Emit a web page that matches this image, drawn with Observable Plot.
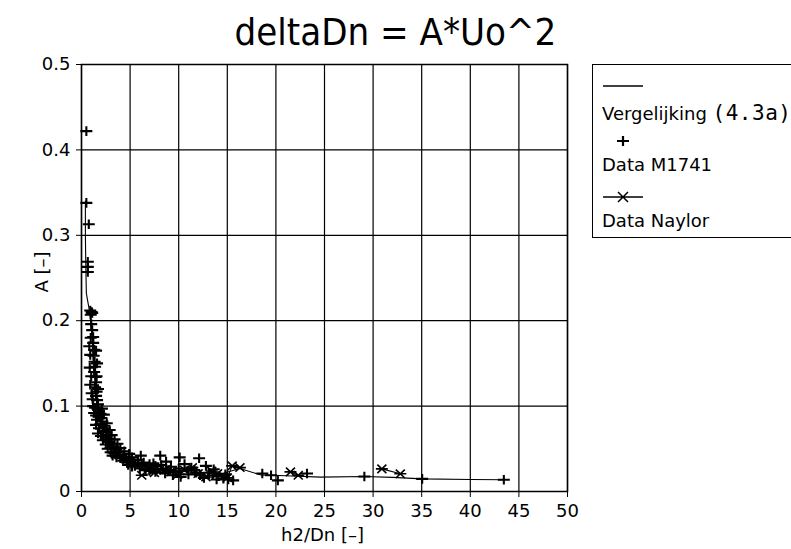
<!DOCTYPE html>
<html>
<head>
<meta charset="utf-8">
<script src="https://cdn.jsdelivr.net/npm/d3@7"></script>
<script src="https://cdn.jsdelivr.net/npm/@observablehq/plot@0.6"></script>
<style>
html, body { margin: 0; padding: 0; background: #fff; overflow: hidden; }
#wrap { position: relative; width: 791px; height: 549px; overflow: hidden; font-family: "DejaVu Sans", sans-serif; color: #000; }
#title { height: 60px; position: relative; }
#title span { position: absolute; left: 0; width: 791px; top: 13px; text-align: center; font-family: "DejaVu Sans Condensed", "DejaVu Sans", sans-serif; font-size: 38px; line-height: 38px; white-space: nowrap; }
#legend { position: absolute; left: 592px; top: 64px; width: 230px; height: 174px; border: 1.5px solid #000; box-sizing: border-box; }
#legend .t { position: absolute; left: 9px; font-size: 18px; line-height: 18px; white-space: nowrap; }
#legend .mono { font-family: "DejaVu Sans Mono", monospace; font-size: 21px; letter-spacing: 0.5px; }
#legend svg { position: absolute; left: 0; top: 0; }
</style>
</head>
<body>
<div id="wrap">
  <div id="title"><span>deltaDn = A*Uo^2</span></div>
  <div id="chart"></div>
  <div id="legend">
    <svg width="60" height="174">
      <line x1="10" x2="50" y1="21" y2="21" stroke="#000" stroke-width="1.3"/>
      <path d="M24,76H36M30,71V81" stroke="#000" stroke-width="2.2" fill="none"/>
      <path d="M10,132H50M25,127L35,137M25,137L35,127" stroke="#000" stroke-width="1.5" fill="none"/>
    </svg>
    <div class="t" style="top:39px">Vergelijking <span class="mono">(4.3a)</span></div>
    <div class="t" style="top:91px">Data M1741</div>
    <div class="t" style="top:147px">Data Naylor</div>
  </div>
</div>
<script>
// ---- Data ----
const title = "deltaDn = A*Uo^2";
const xLabel = "h2/Dn [–]";
const yLabel = "A [–]";
const xTicks = [0, 5, 10, 15, 20, 25, 30, 35, 40, 45, 50];
const xTickLabels = ["0", "5", "10", "15", "20", "25", "30", "35", "40", "45", "50"];
const yTicks = [0, 0.1, 0.2, 0.3, 0.4, 0.5];
const yTickLabels = ["0", "0.1", "0.2", "0.3", "0.4", "0.5"];

// Vergelijking (4.3a) line
const vergX = [0.4, 0.4, 0.45, 0.5, 0.75, 1.0, 1.15, 1.3, 1.45, 1.6, 1.9, 2.3, 2.8, 3.4, 4.2, 5.0, 6.0, 7.5, 9.0, 11, 13, 14.5, 16.3, 18.4, 21, 24.6, 29.1, 32, 35.05, 40, 43.45];
const vergY = [0.34, 0.30, 0.26, 0.232, 0.216, 0.195, 0.165, 0.14, 0.12, 0.10, 0.085, 0.072, 0.06, 0.05, 0.041, 0.035, 0.031, 0.027, 0.025, 0.023, 0.022, 0.021, 0.027, 0.0195, 0.0185, 0.0168, 0.0176, 0.0165, 0.0148, 0.014, 0.0137];

// Data M1741 (plus markers)
const m1741X = [0.5, 0.5, 0.75, 0.65, 0.65, 0.65, 0.9, 1.05, 0.95, 1.1, 1.0, 1.1, 1.2, 1.2, 1.3, 1.25, 1.35, 1.4, 1.3, 1.45, 1.5, 1.4, 1.55, 1.5, 1.6, 1.7, 1.65, 1.8, 1.95, 1.75, 2.05, 2.15, 1.95, 2.3, 2.4, 2.2, 2.55, 2.7, 2.5, 2.9, 2.8, 3.1, 3.3, 3.0, 3.6, 3.8, 3.4, 4.0, 4.3, 4.0, 4.6, 5.0, 4.7, 5.4, 5.8, 5.5, 6.2, 6.8, 7.3, 7.8, 8.4, 6.1, 7.4, 8.1, 8.7, 10.1, 10.6, 12.1, 12.8, 13.6, 9.2, 9.7, 11.0, 11.6, 12.2, 13.1, 14.1, 14.6, 15.1, 15.6, 10.2, 8.6, 7.0, 11.3, 18.6, 19.5, 20.2, 23.2, 29.1, 35.05, 43.45,
  1.2, 1.4, 2.1, 1.3, 1.5, 2.3, 1.6, 1.5, 2.6, 1.8, 1.7, 2.9, 2.0, 3.1, 2.2, 3.4, 2.5, 3.7, 2.7, 4.0, 3.0, 4.4, 3.2, 4.9, 3.6, 5.2, 4.3, 5.8, 4.8, 6.4, 5.2, 7.0, 6.0, 7.6, 6.6, 8.2, 7.6, 9.0, 10.0, 11.8, 13.5, 14.8, 9.4, 12.6, 13.9,
  0.8, 0.9, 0.85, 1.0, 0.9, 1.05, 1.15, 1.6, 1.55, 1.7, 0.95, 1.5];
const m1741Y = [0.422, 0.338, 0.313, 0.269, 0.263, 0.257, 0.212, 0.210, 0.207, 0.209, 0.196, 0.189, 0.181, 0.174, 0.166, 0.159, 0.152, 0.146, 0.140, 0.134, 0.128, 0.122, 0.117, 0.112, 0.107, 0.102, 0.097, 0.094, 0.091, 0.088, 0.086, 0.082, 0.079, 0.077, 0.074, 0.071, 0.069, 0.066, 0.063, 0.061, 0.058, 0.056, 0.053, 0.051, 0.049, 0.046, 0.045, 0.043, 0.041, 0.039, 0.038, 0.036, 0.034, 0.034, 0.032, 0.030, 0.030, 0.029, 0.027, 0.026, 0.027, 0.042, 0.033, 0.042, 0.035, 0.040, 0.032, 0.039, 0.030, 0.026, 0.029, 0.023, 0.020, 0.025, 0.019, 0.022, 0.018, 0.015, 0.014, 0.013, 0.017, 0.021, 0.024, 0.028, 0.021, 0.019, 0.013, 0.021, 0.0176, 0.0148, 0.0137,
  0.100, 0.098, 0.097, 0.092, 0.089, 0.090, 0.084, 0.078, 0.080, 0.074, 0.068, 0.072, 0.065, 0.066, 0.060, 0.061, 0.055, 0.056, 0.050, 0.051, 0.046, 0.047, 0.042, 0.044, 0.040, 0.040, 0.036, 0.037, 0.031, 0.034, 0.029, 0.032, 0.027, 0.030, 0.025, 0.031, 0.023, 0.025, 0.027, 0.022, 0.019, 0.020, 0.019, 0.016, 0.014,
  0.170, 0.160, 0.145, 0.135, 0.125, 0.115, 0.108, 0.150, 0.135, 0.120, 0.180, 0.165];

// Data Naylor (asterisk markers, connected per test series)
const naylorX = [6.2, 7.5, 8.5, 9.2, 9.9, 10.6, 11.4, 12.0, 12.8, 13.4, 14.0, 14.6, 15.0, 15.5, 16.3, 21.5, 22.3, 30.9, 32.8];
const naylorY = [0.019, 0.022, 0.025, 0.023, 0.020, 0.025, 0.028, 0.021, 0.017, 0.024, 0.021, 0.018, 0.016, 0.030, 0.028, 0.023, 0.019, 0.0265, 0.0207];
const naylorSeries = ["a", "a", "a", "a", "a", "a", "a", "a", "a", "a", "a", "a", "a", "a", "a", "b", "b", "c", "c"];

// ---- Tables built from the arrays ----
const verg = vergX.map((x, i) => ({x, y: vergY[i]}));
const m1741 = m1741X.map((x, i) => ({x, y: m1741Y[i]}));
const naylor = naylorX.map((x, i) => ({x, y: naylorY[i], s: naylorSeries[i]}));

// marker shapes
const plusSymbol = {
  draw(ctx, size) {
    const r = Math.sqrt(size / Math.PI);
    ctx.moveTo(-r, 0); ctx.lineTo(r, 0);
    ctx.moveTo(0, -r * 0.8); ctx.lineTo(0, r * 0.8);
  }
};
const asteriskSymbol = {
  draw(ctx, size) {
    const r = Math.sqrt(size / Math.PI);
    ctx.moveTo(-r, 0); ctx.lineTo(r, 0);
    ctx.moveTo(-0.75 * r, -0.7 * r); ctx.lineTo(0.75 * r, 0.7 * r);
    ctx.moveTo(-0.75 * r, 0.7 * r); ctx.lineTo(0.75 * r, -0.7 * r);
  }
};

const font = "'DejaVu Sans', sans-serif";

const chart = Plot.plot({
  width: 791,
  height: 489,
  marginLeft: 81,
  marginRight: 224,
  marginTop: 4,
  marginBottom: 58,
  style: {fontFamily: font, fontSize: "18px", color: "#000", background: "#fff", overflow: "visible"},
  x: {domain: [0, 50]},
  y: {domain: [0, 0.5]},
  marks: [
    Plot.gridX(xTicks, {stroke: "#000", strokeOpacity: 1, strokeWidth: 1.2}),
    Plot.gridY(yTicks, {stroke: "#000", strokeOpacity: 1, strokeWidth: 1.2}),
    Plot.frame({stroke: "#000", strokeWidth: 1.5}),
    Plot.axisX({ticks: xTicks, tickFormat: d => xTickLabels[xTicks.indexOf(d)], tickSize: 6, tickPadding: 7, label: null, fontSize: 18}),
    Plot.axisY({ticks: yTicks, tickFormat: d => yTickLabels[yTicks.indexOf(d)], tickSize: 5, tickPadding: 6, label: null, fontSize: 18}),
    Plot.text([xLabel], {frameAnchor: "bottom", dy: 44, dx: -2, text: d => d, fontSize: 18, lineAnchor: "middle", textAnchor: "middle"}),
    Plot.text([yLabel], {frameAnchor: "left", dx: -39, dy: -6, rotate: -90, text: d => d, fontSize: 18, lineAnchor: "middle", textAnchor: "middle"}),
    Plot.line(verg, {x: "x", y: "y", stroke: "#000", strokeWidth: 1.1}),
    Plot.line(naylor, {x: "x", y: "y", z: "s", stroke: "#000", strokeWidth: 1.1}),
    Plot.dot(m1741, {x: "x", y: "y", symbol: plusSymbol, r: 6, fill: "none", stroke: "#000", strokeWidth: 2.1}),
    Plot.dot(naylor, {x: "x", y: "y", symbol: asteriskSymbol, r: 6, fill: "none", stroke: "#000", strokeWidth: 1.6})
  ]
});
document.getElementById("chart").appendChild(chart);
</script>
</body>
</html>
